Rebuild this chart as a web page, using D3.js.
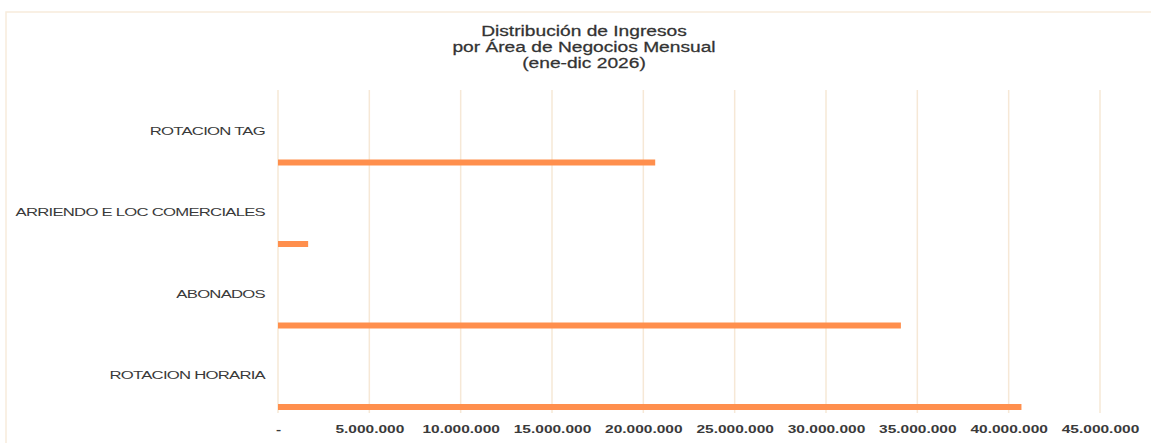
<!DOCTYPE html>
<html>
<head>
<meta charset="utf-8">
<script src="https://cdn.jsdelivr.net/npm/d3@7"></script>
<style>
  body { margin: 0; background: #fff; }
  text { font-family: "Liberation Sans", Arial, sans-serif; }
</style>
</head>
<body>
<svg id="chart" width="1151" height="443"></svg>
<script>
var categories = ["ROTACION TAG", "ARRIENDO E LOC COMERCIALES", "ABONADOS", "ROTACION HORARIA"];
var values = [20650000, 1650000, 34100000, 40700000];
var tickValues = [0, 5000000, 10000000, 15000000, 20000000, 25000000, 30000000, 35000000, 40000000, 45000000];
var titleLines = ["Distribución de Ingresos", "por Área de Negocios Mensual", "(ene-dic 2026)"];

var svg = d3.select("#chart");
var width = +svg.attr("width");
var height = +svg.attr("height");

var gridColor = "#f6e8d6";
var barColor = "#ff8f4d";
var textColor = "#3a3a3a";

// chart frame
svg.append("rect")
    .attr("x", 6)
    .attr("y", 12)
    .attr("width", width + 20)
    .attr("height", height + 20)
    .attr("fill", "none")
    .attr("stroke", "#f7ecdc")
    .attr("stroke-width", 1.5);

// title
var title = svg.append("g")
    .attr("transform", "translate(584,0) scale(1.37,1)");
title.selectAll("text")
    .data(titleLines)
    .enter()
    .append("text")
    .attr("x", 0)
    .attr("y", function (d, i) { return 36 + i * 16; })
    .attr("text-anchor", "middle")
    .attr("font-size", "14px")
    .attr("fill", "#333")
    .attr("stroke", "#333")
    .attr("stroke-width", 0.25)
    .text(function (d) { return d; });

var x = d3.scaleLinear()
    .domain([0, 45000000])
    .range([278, 1100]);

var y = d3.scaleBand()
    .domain(categories)
    .range([90, 416]);

// gridlines
svg.append("g")
    .selectAll("line")
    .data(tickValues)
    .enter()
    .append("line")
    .attr("x1", function (d) { return x(d); })
    .attr("x2", function (d) { return x(d); })
    .attr("y1", 90)
    .attr("y2", 413)
    .attr("stroke", gridColor)
    .attr("stroke-width", 1.5);

// x axis labels
var xAxis = d3.axisBottom(x)
    .tickValues(tickValues)
    .tickSize(0)
    .tickPadding(0)
    .tickFormat(function (d) {
        return d === 0 ? "-" : d3.format(",")(d).replace(/,/g, ".");
    });

var axisG = svg.append("g")
    .attr("transform", "translate(0,426)")
    .call(xAxis);
axisG.select(".domain").remove();
axisG.selectAll("text")
    .attr("transform", "scale(1.55,1)")
    .attr("font-family", "'DejaVu Sans', sans-serif")
    .attr("font-size", "10px")
    .attr("font-weight", "bold")
    .attr("fill", textColor);

// category labels
svg.append("g")
    .selectAll("text")
    .data(categories)
    .enter()
    .append("text")
    .attr("transform", function (d) {
        return "translate(265," + (y(d) + y.bandwidth() / 2 + 4) + ") scale(1.52,1)";
    })
    .attr("text-anchor", "end")
    .attr("font-size", "11px")
    .attr("letter-spacing", "-0.5px")
    .attr("fill", textColor)
    .text(function (d) { return d; });

// bars
svg.append("g")
    .selectAll("rect")
    .data(values)
    .enter()
    .append("rect")
    .attr("x", x(0))
    .attr("y", function (d, i) { return y(categories[i]) + y.bandwidth() - 12; })
    .attr("width", function (d) { return x(d) - x(0); })
    .attr("height", 6)
    .attr("fill", barColor);
</script>
</body>
</html>
